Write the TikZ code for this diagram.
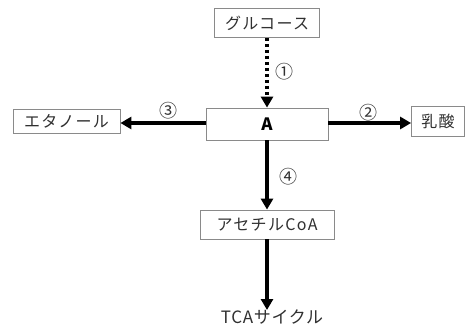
\documentclass[tikz,border=0pt]{standalone}
\usepackage{fontspec}
\setmainfont{Noto Sans CJK JP}
\usetikzlibrary{arrows.meta}
\definecolor{boxgray}{HTML}{8A8A8A}
\definecolor{txtgray}{HTML}{303030}
\tikzset{
  box/.style={draw=boxgray, line width=0.8pt, inner sep=0pt, text=txtgray, font=\fontsize{16}{18}\selectfont\addfontfeature{LetterSpace=8}},
  thickarrow/.style={line width=3.8pt, -{Triangle[width=12pt,length=11pt]}},
  dotarrow/.style={line width=3.8pt, dash pattern=on 3.5pt off 2.5pt, -{Triangle[width=12pt,length=11pt]}},
  numlabel/.style={font=\fontsize{18}{20}\selectfont, text=txtgray, inner sep=0pt}
}
\begin{document}
\begin{tikzpicture}[x=1pt,y=-1pt]
\useasboundingbox (0,0) rectangle (468,331);
\node[box, minimum width=105pt, minimum height=29pt] (gl) at (267,23) {グルコース};
\node[box, minimum width=122pt, minimum height=32pt, text=black, font=\fontsize{17}{19}\selectfont\bfseries] (A) at (267,124) {A};
\node[box, minimum width=107pt, minimum height=24pt] (eth) at (66.5,121) {エタノール};
\node[box, minimum width=53pt, minimum height=30pt] (lac) at (438,121) {乳酸};
\node[box, minimum width=134pt, minimum height=29pt] (acoa) at (267,224.5) {アセチルCoA};
\node[font=\fontsize{17}{19}\selectfont\addfontfeature{LetterSpace=4}, text=txtgray, inner sep=0pt, anchor=north] (tca) at (272,310) {TCAサイクル};
\draw[dotarrow] (gl.south) -- (A.north);
\draw[thickarrow] (A.west |- 0,123) -- (eth.east |- 0,123);
\draw[thickarrow] (A.east |- 0,123) -- (lac.west |- 0,123);
\draw[thickarrow] (A.south) -- (acoa.north);
\draw[thickarrow] (acoa.south) -- (tca.north -| acoa.south);
\node[numlabel] (n1) at (284,72) {①};
\node[numlabel] (n2) at (368,113) {②};
\node[numlabel] (n3) at (168,111) {③};
\node[numlabel] (n4) at (288,177) {④};
\end{tikzpicture}
\end{document}
